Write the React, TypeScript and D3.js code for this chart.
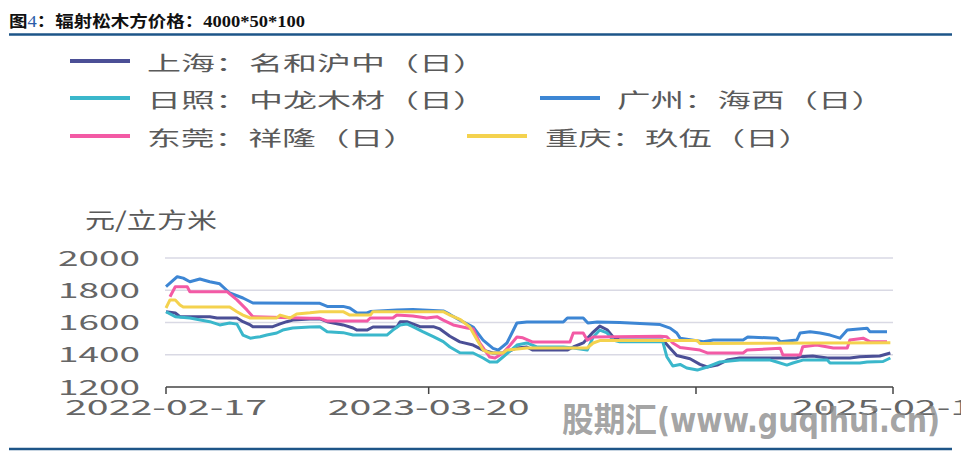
import React from 'react';
import * as d3 from 'd3';

const seriesNames = ['上海：名和沪中（日）', '日照：中龙木材（日）', '广州：海西（日）', '东莞：祥隆（日）', '重庆：玖伍（日）'];
const seriesColors = ['#4b4f96', '#3ab7cb', '#3d86d4', '#f35aa5', '#f4d24e'];

const shanghaiDates = ['2022-02-17','2022-03-03','2022-03-10','2022-04-24','2022-05-05','2022-06-04','2022-06-13','2022-06-24','2022-06-28','2022-07-28','2022-08-08','2022-08-18','2022-08-27','2022-09-22','2022-10-07','2022-10-18','2022-11-11','2022-11-26','2022-12-02','2022-12-17','2022-12-26','2023-01-31','2023-02-05','2023-02-15','2023-02-24','2023-03-07','2023-03-27','2023-04-06','2023-04-21','2023-05-06','2023-05-26','2023-06-10','2023-06-25','2023-07-10','2023-07-16','2023-07-31','2023-08-15','2023-08-24','2023-10-15','2023-10-24','2023-11-08','2023-11-23','2023-12-03','2023-12-14','2023-12-23','2024-01-02','2024-03-07','2024-03-18','2024-03-28','2024-04-17','2024-05-02','2024-05-13','2024-05-28','2024-06-12','2024-07-01','2024-09-25','2024-09-30','2024-10-19','2024-11-10','2024-12-14','2024-12-29','2025-01-28','2025-02-13'];
const shanghaiPrices = [1667,1659,1636,1636,1628,1628,1605,1585,1574,1574,1591,1605,1615,1622,1622,1605,1585,1566,1553,1553,1572,1572,1605,1605,1591,1574,1574,1560,1515,1480,1460,1429,1411,1411,1417,1442,1448,1429,1429,1448,1473,1541,1578,1555,1510,1491,1491,1440,1395,1375,1340,1324,1336,1367,1380,1380,1388,1392,1380,1380,1388,1392,1411];

const rizhaoDates = ['2022-02-17','2022-03-03','2022-03-25','2022-04-24','2022-05-09','2022-05-24','2022-06-04','2022-06-13','2022-06-24','2022-07-09','2022-07-19','2022-08-03','2022-08-12','2022-08-27','2022-09-22','2022-10-07','2022-10-18','2022-11-11','2022-11-26','2023-01-16','2023-01-25','2023-02-05','2023-02-15','2023-02-24','2023-03-11','2023-03-27','2023-04-11','2023-04-21','2023-05-06','2023-05-26','2023-06-10','2023-06-20','2023-07-01','2023-07-10','2023-07-31','2023-08-15','2023-08-30','2023-10-09','2023-10-24','2023-11-14','2023-11-23','2023-12-03','2023-12-14','2023-12-23','2024-01-02','2024-03-07','2024-03-13','2024-03-22','2024-04-02','2024-04-12','2024-04-28','2024-05-13','2024-06-01','2024-07-01','2024-08-16','2024-08-26','2024-09-10','2024-09-19','2024-10-04','2024-11-10','2024-11-14','2024-12-29','2025-01-09','2025-02-02','2025-02-13'];
const rizhaoPrices = [1667,1636,1628,1605,1585,1597,1590,1522,1503,1512,1522,1535,1553,1566,1572,1574,1543,1537,1522,1522,1553,1585,1591,1574,1543,1512,1481,1448,1412,1411,1380,1355,1355,1386,1460,1473,1448,1448,1442,1429,1510,1553,1535,1491,1480,1480,1388,1330,1340,1318,1305,1324,1355,1367,1367,1355,1336,1349,1367,1367,1349,1349,1355,1358,1380];

const guangzhouDates = ['2022-02-17','2022-03-06','2022-03-15','2022-03-25','2022-04-09','2022-04-24','2022-05-09','2022-05-24','2022-06-13','2022-06-28','2022-10-07','2022-10-18','2022-11-11','2022-11-21','2022-12-02','2022-12-17','2022-12-22','2023-01-31','2023-02-24','2023-04-11','2023-04-21','2023-05-06','2023-05-26','2023-06-10','2023-06-25','2023-07-03','2023-07-16','2023-07-31','2023-08-15','2023-10-09','2023-10-15','2023-11-08','2023-11-15','2023-11-29','2024-01-02','2024-03-03','2024-03-18','2024-03-28','2024-04-02','2024-05-07','2024-05-22','2024-07-06','2024-07-13','2024-08-26','2024-08-31','2024-09-25','2024-09-30','2024-10-15','2024-10-30','2024-11-14','2024-11-29','2024-12-10','2025-01-09','2025-01-13','2025-02-08'];
const guangzhouPrices = [1822,1884,1875,1853,1870,1853,1840,1783,1752,1721,1719,1700,1700,1690,1659,1659,1668,1677,1680,1672,1650,1615,1572,1491,1440,1429,1473,1597,1603,1603,1628,1628,1597,1603,1600,1587,1565,1535,1503,1481,1491,1491,1510,1503,1481,1491,1535,1543,1535,1522,1503,1553,1565,1543,1543];

const dongguanDates = ['2022-02-23','2022-03-03','2022-03-21','2022-03-25','2022-05-20','2022-06-04','2022-06-19','2022-06-28','2022-09-22','2022-10-07','2022-10-18','2022-12-17','2022-12-22','2023-01-25','2023-01-31','2023-02-24','2023-03-17','2023-04-02','2023-04-11','2023-04-26','2023-05-17','2023-05-26','2023-06-05','2023-06-20','2023-06-28','2023-07-10','2023-07-21','2023-07-31','2023-08-09','2023-08-24','2023-10-19','2023-10-24','2023-11-08','2023-11-14','2023-11-23','2024-03-03','2024-03-13','2024-03-22','2024-04-02','2024-05-02','2024-05-13','2024-07-06','2024-07-12','2024-08-31','2024-09-04','2024-09-30','2024-10-04','2024-10-25','2024-11-19','2024-12-10','2024-12-14','2025-01-03','2025-01-13','2025-02-08'];
const dongguanPrices = [1760,1822,1822,1791,1791,1740,1678,1636,1627,1626,1609,1609,1628,1628,1646,1640,1628,1635,1615,1585,1566,1560,1473,1386,1380,1411,1460,1510,1505,1479,1479,1535,1535,1491,1510,1515,1512,1473,1445,1429,1411,1411,1429,1440,1398,1398,1450,1460,1442,1442,1491,1503,1481,1481];

const chongqingDates = ['2022-02-17','2022-02-23','2022-03-03','2022-03-10','2022-03-15','2022-05-24','2022-06-04','2022-06-13','2022-06-24','2022-08-03','2022-08-08','2022-08-23','2022-09-02','2022-09-22','2022-10-07','2022-11-11','2022-11-21','2022-12-22','2022-12-26','2023-04-11','2023-04-21','2023-05-06','2023-05-21','2023-06-01','2023-06-10','2023-06-20','2023-07-10','2023-07-16','2023-08-15','2023-11-14','2023-11-23','2023-12-03','2024-04-28','2024-05-02','2025-02-13'];
const chongqingPrices = [1690,1740,1740,1709,1696,1696,1667,1646,1628,1628,1646,1628,1653,1660,1667,1667,1646,1646,1667,1667,1646,1620,1572,1491,1429,1411,1411,1429,1442,1442,1473,1488,1488,1470,1475];

const yTicks = [1200, 1400, 1600, 1800, 2000];
const xTickDates = ['2022-02-17', '2023-03-20', '2024-04-26', '2025-02-17'];
const xTickLabels = ['2022-02-17', '2023-03-20', '', '2025-02-17'];
const xDomain = ['2022-02-17', '2025-02-17'];

const parse = d3.timeParse('%Y-%m-%d');

const allSeries = [
  { dates: shanghaiDates, prices: shanghaiPrices },
  { dates: rizhaoDates, prices: rizhaoPrices },
  { dates: guangzhouDates, prices: guangzhouPrices },
  { dates: dongguanDates, prices: dongguanPrices },
  { dates: chongqingDates, prices: chongqingPrices },
];

export default function App() {
  const W = 961, H = 452;
  const x = d3.scaleTime().domain(xDomain.map((d) => parse(d) as Date)).range([166, 893]);
  const y = d3.scaleLinear().domain([1200, 2000]).range([387, 258]);
  const line = d3.line<[Date, number]>().x((d) => x(d[0])).y((d) => y(d[1])).curve(d3.curveLinear);

  const cjk = '"Noto Sans CJK SC", "Noto Sans", sans-serif';
  const txt = '#5a5a5a';

  const legend = [
    { i: 0, lx: 70, tx: 147, cy: 61, w: 340 },
    { i: 1, lx: 70, tx: 147, cy: 98, w: 340 },
    { i: 2, lx: 540, tx: 617, cy: 98, w: 268 },
    { i: 3, lx: 70, tx: 147, cy: 136, w: 270 },
    { i: 4, lx: 467, tx: 545, cy: 136, w: 267 },
  ];

  return (
    <svg width={W} height={H} style={{ position: 'absolute', left: 0, top: 0, background: '#fff' }}>
      <rect width={W} height={H} fill="#fff" />
      {/* title */}
      <text x={9} y={27} fontSize={16} fontWeight="bold" fontFamily={'"Liberation Serif", "Noto Sans CJK SC", serif'} fill="#111" textLength={296} lengthAdjust="spacingAndGlyphs">
        图<tspan fill="#2a5ca8" fontWeight="normal">4</tspan>：辐射松木方价格：4000*50*100
      </text>
      <line x1={9} x2={952} y1={34.5} y2={34.5} stroke="#1d5588" strokeWidth={2.5} />
      <line x1={9} x2={952} y1={449} y2={449} stroke="#1d5588" strokeWidth={2.5} />

      {/* legend */}
      {legend.map((l) => (
        <g key={l.i}>
          <line x1={l.lx} x2={l.lx + 60} y1={l.cy} y2={l.cy} stroke={seriesColors[l.i]} strokeWidth={4} />
          <text x={l.tx} y={l.cy + 1.5} dominantBaseline="central" fontSize={20} fontFamily={cjk} fill={txt} textLength={l.w} lengthAdjust="spacingAndGlyphs">
            {seriesNames[l.i]}
          </text>
        </g>
      ))}

      {/* axis title */}
      <text x={85} y={228} fontSize={22} fontFamily={cjk} fill={txt} textLength={132} lengthAdjust="spacingAndGlyphs">元/立方米</text>

      {/* gridlines */}
      {yTicks.filter((t) => t !== 1200).map((t) => (
        <line key={t} x1={165} x2={893} y1={y(t)} y2={y(t)} stroke="#d9d9e4" strokeWidth={1.5} />
      ))}
      {/* y labels */}
      {yTicks.map((t) => (
        <text key={t} x={140} y={y(t) + 7.5} textAnchor="end" fontSize={21} fontFamily={cjk} fill="#666" textLength={82} lengthAdjust="spacingAndGlyphs">
          {t}
        </text>
      ))}

      {/* series */}
      {allSeries.map((s, i) => (
        <path key={i} d={line(s.dates.map((d, j) => [parse(d) as Date, s.prices[j]])) || ''} fill="none" stroke={seriesColors[i]} strokeWidth={3} strokeLinejoin="round" />
      ))}

      {/* x axis */}
      <line x1={166} x2={893} y1={387} y2={387} stroke="#444" strokeWidth={1.5} />
      {xTickDates.map((d, i) => {
        const px = x(parse(d) as Date);
        return (
          <g key={d}>
            <line x1={px} x2={px} y1={387} y2={394} stroke="#444" strokeWidth={1.5} />
            {xTickLabels[i] && (
              <text x={px} y={415} textAnchor="middle" fontSize={21} fontFamily={cjk} fill="#666" textLength={202} lengthAdjust="spacingAndGlyphs">
                {xTickLabels[i]}
              </text>
            )}
          </g>
        );
      })}

      {/* watermark */}
      <text x={562} y={432} fontSize={34} fontWeight="bold" fontFamily={'"DejaVu Sans Condensed", "Noto Sans CJK SC", sans-serif'} fill="#8c8c8c" fillOpacity={0.8} textLength={378} lengthAdjust="spacingAndGlyphs">
        股期汇(www.guqihui.cn)
      </text>
    </svg>
  );
}
